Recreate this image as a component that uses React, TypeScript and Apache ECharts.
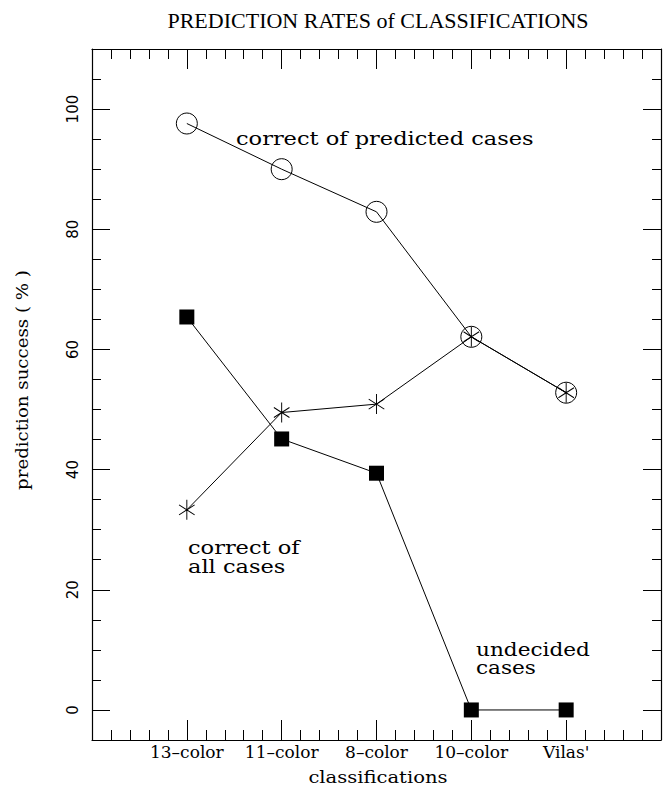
import React, { useEffect, useRef } from 'react';
import * as echarts from 'echarts';

const categories = ['13–color', '11–color', '8–color', '10–color', "Vilas'"];
const correctOfPredicted = [97.6, 90.0, 82.9, 62.1, 52.8];
const correctOfAll = [33.3, 49.5, 50.9, 62.1, 52.8];
const undecided = [65.4, 45.1, 39.4, 0, 0];
const yMajorTicks = [0, 20, 40, 60, 80, 100];
const yMinorTicks = [5, 10, 15, 25, 30, 35, 45, 50, 55, 65, 70, 75, 85, 90, 95, 105];
const yMin = -5;
const yMax = 110;
const xMin = 0;
const xMax = 6;

const starPath = 'path://M10,0L10,20M1.34,5L18.66,15M1.34,15L18.66,5';

const toPoints = (vals: number[]) => categories.map((_, i) => [i + 1, vals[i]]);

export default function App() {
  const ref = useRef<HTMLDivElement>(null);
  useEffect(() => {
    if (!ref.current) return;
    const chart = echarts.init(ref.current, null, { renderer: 'svg' });
    const black = '#000';
    const gridBox = { left: 92, right: 6, top: 49, bottom: 45, outerBoundsMode: 'none' };
    const xBase = (pos: 'top' | 'bottom', labels: boolean, gridIndex: number, show = true) => ({
      type: 'value',
      gridIndex,
      show,
      position: pos,
      min: xMin,
      max: xMax,
      interval: 1,
      axisLine: { show: true, onZero: false, lineStyle: { color: black, width: 1.2 } },
      axisTick: { show: true, inside: true, length: 20, lineStyle: { color: black, width: 1 } },
      minorTick: { show: true, splitNumber: 5, length: 10, lineStyle: { color: black, width: 1 } },
      axisLabel: {
        show: labels,
        color: black,
        fontFamily: 'DejaVu Serif',
        fontSize: 17,
        margin: 3,
        formatter: (v: number) => categories[v - 1] ?? '',
      },
      splitLine: { show: false },
    });
    const yBase = (pos: 'left' | 'right', gridIndex: number, ticks: number[], len: number, labels: boolean, line: boolean) => ({
      type: 'value',
      gridIndex,
      position: pos,
      min: yMin,
      max: yMax,
      axisLine: { show: line, onZero: false, lineStyle: { color: black, width: 1.2 } },
      axisTick: { show: true, inside: true, length: len, customValues: ticks, lineStyle: { color: black, width: 1 } },
      axisLabel: {
        show: labels,
        customValues: ticks,
        rotate: 90,
        color: black,
        fontFamily: 'DejaVu Sans',
        fontSize: 15,
        margin: 12,
      },
      splitLine: { show: false },
    });
    chart.setOption({
      animation: false,
      backgroundColor: '#fff',
      grid: [gridBox, gridBox],
      xAxis: [
        xBase('bottom', true, 0),
        xBase('top', false, 0),
        xBase('bottom', false, 1, false),
      ],
      yAxis: [
        yBase('left', 0, yMajorTicks, 18, true, true),
        yBase('right', 0, yMajorTicks, 18, false, true),
        yBase('left', 1, yMinorTicks, 9, false, false),
        yBase('right', 1, yMinorTicks, 9, false, false),
      ],
      series: [
        {
          name: 'correct of predicted cases',
          type: 'line',
          xAxisIndex: 0,
          yAxisIndex: 0,
          data: toPoints(correctOfPredicted),
          symbol: 'circle',
          symbolSize: 21,
          itemStyle: { color: 'rgba(0,0,0,0)', borderColor: black, borderWidth: 1 },
          lineStyle: { color: black, width: 1 },
          z: 3,
        },
        {
          name: 'correct of all cases',
          type: 'line',
          xAxisIndex: 0,
          yAxisIndex: 0,
          data: toPoints(correctOfAll),
          symbol: starPath,
          symbolSize: [18, 20],
          symbolKeepAspect: true,
          itemStyle: { color: 'rgba(0,0,0,0)', borderColor: black, borderWidth: 1 },
          lineStyle: { color: black, width: 1 },
          z: 4,
        },
        {
          name: 'undecided cases',
          type: 'line',
          xAxisIndex: 0,
          yAxisIndex: 0,
          data: toPoints(undecided),
          symbol: 'rect',
          symbolSize: 15,
          itemStyle: { color: black, borderColor: black, borderWidth: 0 },
          lineStyle: { color: black, width: 1 },
          z: 5,
        },
      ],
      graphic: [
        {
          type: 'text',
          x: 378,
          y: 20,
          style: {
            text: 'PREDICTION RATES of CLASSIFICATIONS',
            font: '22px "Liberation Serif"',
            fill: black,
            align: 'center',
            verticalAlign: 'middle',
          },
        },
        {
          type: 'text',
          x: 22,
          y: 380,
          rotation: Math.PI / 2,
          scaleX: 1.07,
          style: {
            text: 'prediction success ( % )',
            font: '17px "DejaVu Serif"',
            fill: black,
            align: 'center',
            verticalAlign: 'middle',
          },
        },
        {
          type: 'text',
          x: 378,
          y: 785,
          scaleX: 1.15,
          style: {
            text: 'classifications',
            font: '17px "DejaVu Serif"',
            fill: black,
            align: 'center',
            verticalAlign: 'bottom',
          },
        },
        {
          type: 'text',
          x: 236,
          y: 139,
          scaleX: 1.25,
          style: {
            text: 'correct of predicted cases',
            font: '18px "DejaVu Serif"',
            fill: black,
            verticalAlign: 'middle',
          },
        },
        {
          type: 'text',
          x: 188,
          y: 538,
          scaleX: 1.25,
          style: {
            text: 'correct of\nall cases',
            font: '18px "DejaVu Serif"',
            lineHeight: 19,
            fill: black,
            verticalAlign: 'top',
          },
        },
        {
          type: 'text',
          x: 476,
          y: 641,
          scaleX: 1.2,
          style: {
            text: 'undecided\ncases',
            font: '18px "DejaVu Serif"',
            lineHeight: 18,
            fill: black,
            verticalAlign: 'top',
          },
        },
      ],
    });
    return () => chart.dispose();
  }, []);
  return (
    <div
      ref={ref}
      style={{ position: 'fixed', left: 0, top: 0, width: 667, height: 785, background: '#fff' }}
    />
  );
}
